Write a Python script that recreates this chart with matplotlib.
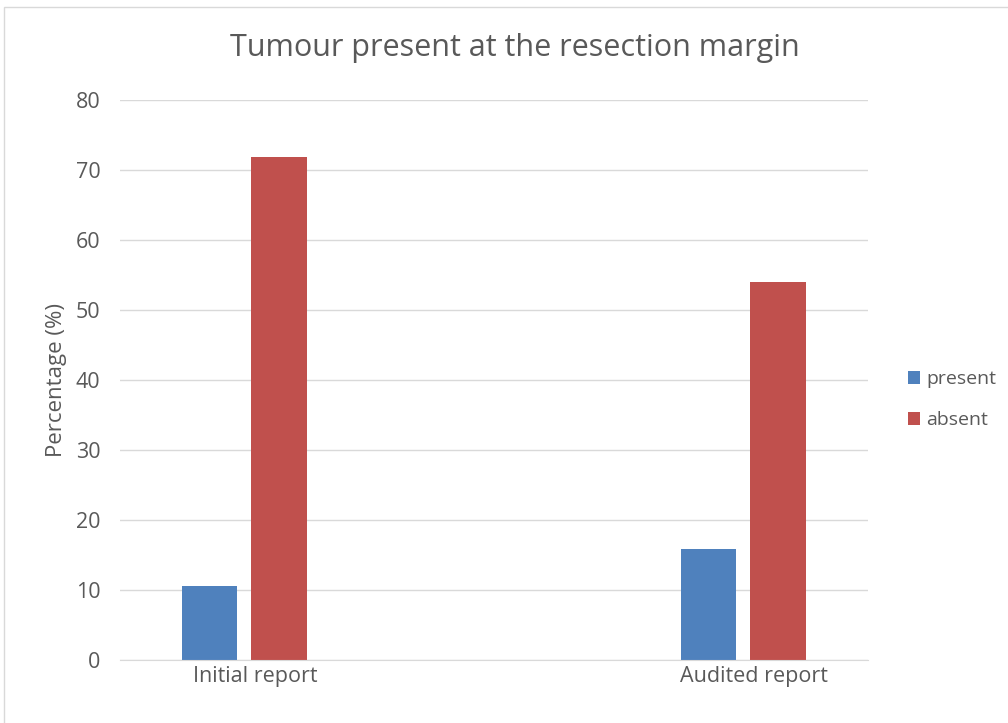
import matplotlib
matplotlib.use("Agg")
import matplotlib.pyplot as plt
from matplotlib.patches import Rectangle

categories = ["Initial report", "Audited report"]
present = [10.6, 15.9]
absent = [71.8, 54.0]

plt.rcParams['font.family'] = ['Open Sans', 'DejaVu Sans']
text_color = '#595959'
grid_color = '#d9d9d9'

fig = plt.figure(figsize=(10.08, 7.23), dpi=100)
ax = fig.add_axes([0.119, 0.0871, 0.742, 0.7746])

x = range(len(categories))
w = 0.112
ax.bar([i - 0.071 for i in x], present, width=w, color='#4F81BD', label='present', zorder=3)
ax.bar([i + 0.068 for i in x], absent, width=w, color='#C0504D', label='absent', zorder=3)

ax.set_xlim(-0.2505, 1.2485)
ax.set_ylim(0, 80)
ax.set_yticks(range(0, 81, 10))
ax.set_xticks([i + 0.02 for i in x])
ax.set_xticklabels(categories)
ax.tick_params(axis='both', length=0, labelsize=15.5, colors=text_color)
ax.tick_params(axis='x', pad=4)
ax.tick_params(axis='y', pad=14)
ax.yaxis.grid(True, color=grid_color, linewidth=1, zorder=0)
for side in ['top', 'right', 'left']:
    ax.spines[side].set_visible(False)
ax.spines['bottom'].set_color(grid_color)
ax.spines['bottom'].set_zorder(4)

ax.set_ylabel('Percentage (%)', fontsize=16, color=text_color)
ax.yaxis.label.set(ha='center', va='center')
ax.yaxis.set_label_coords(-0.085, 0.5)
fig.text(0.511, 0.933, 'Tumour present at the resection margin', ha='center', va='center',
         fontsize=22, color=text_color)

leg = fig.legend(loc='center left', bbox_to_anchor=(0.9008, 0.447), frameon=False,
                 fontsize=14, handlelength=0.62, handleheight=0.62, labelspacing=1.2,
                 handletextpad=0.3, borderpad=0, borderaxespad=0)
for t in leg.get_texts():
    t.set_color(text_color)

fig.patches.append(Rectangle((4 / 1008, -0.1), 1.2, 1 - 7 / 723 + 0.1, transform=fig.transFigure,
                             fill=False, edgecolor='#d9d9d9', linewidth=1))

fig.savefig('out.png', dpi=100)
